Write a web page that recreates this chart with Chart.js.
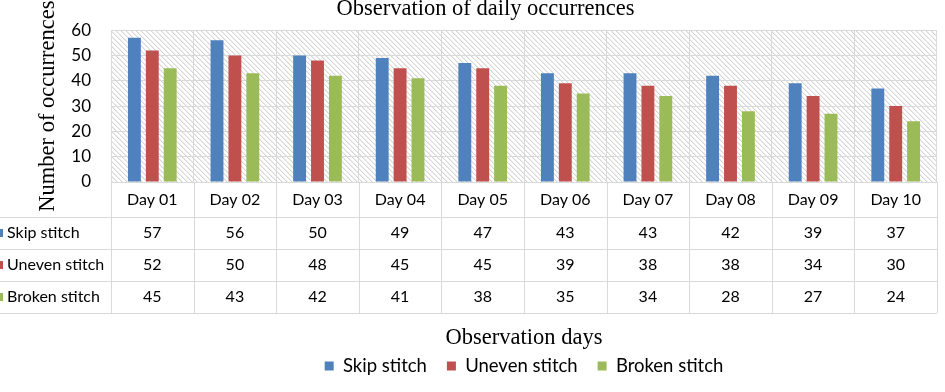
<!DOCTYPE html>
<html>
<head>
<meta charset="utf-8">
<script src="https://cdn.jsdelivr.net/npm/chart.js@4/dist/chart.umd.min.js"></script>
<style>
html, body { margin: 0; padding: 0; background: #ffffff; }
#wrap { width: 945px; height: 392px; }
</style>
</head>
<body>
<div id="wrap"><canvas id="c" width="945" height="392"></canvas></div>
<script>
// ---- data ----
const days = ['Day 01', 'Day 02', 'Day 03', 'Day 04', 'Day 05', 'Day 06', 'Day 07', 'Day 08', 'Day 09', 'Day 10'];
const skipStitch = [57, 56, 50, 49, 47, 43, 43, 42, 39, 37];
const unevenStitch = [52, 50, 48, 45, 45, 39, 38, 38, 34, 30];
const brokenStitch = [45, 43, 42, 41, 38, 35, 34, 28, 27, 24];
const seriesNames = ['Skip stitch', 'Uneven stitch', 'Broken stitch'];
const yTickValues = [0, 10, 20, 30, 40, 50, 60];
const chartTitle = 'Observation of daily occurrences';
const xTitle = 'Observation days';
const yTitle = 'Number of occurrences';

// ---- styles ----
const seriesColors = ['#4F81BD', '#C0504D', '#9BBB59'];
const gridColor = '#d9d9d9';
const sansFont = 'Lato';
const serifFont = 'Liberation Serif';

Chart.defaults.color = '#000';
Chart.defaults.font.family = sansFont;

function makeHatch(ctx) {
  const t = document.createElement('canvas');
  t.width = 5; t.height = 5;
  const g = t.getContext('2d');
  g.fillStyle = '#ffffff';
  g.fillRect(0, 0, 5, 5);
  for (let i = 0; i < 5; i++) {
    g.fillStyle = '#d6d6d6';
    g.fillRect(i, i, 1, 1);
    g.fillStyle = '#eeeeee';
    g.fillRect((i + 1) % 5, i, 1, 1);
  }
  return ctx.createPattern(t, 'repeat');
}

const tablePlugin = {
  id: 'dataTable',
  beforeDraw(chart) {
    const { ctx, chartArea: a } = chart;
    ctx.save();
    ctx.fillStyle = makeHatch(ctx);
    ctx.fillRect(a.left, a.top, a.right - a.left, a.bottom - a.top);
    ctx.restore();
  },
  afterDraw(chart) {
    const { ctx, chartArea: a } = chart;
    const xs = chart.scales.x;
    const headerH = 35, rowH = 32;
    const top0 = a.bottom + headerH;
    const n = days.length;
    const nRows = chart.data.datasets.length;
    const bottom = top0 + nRows * rowH;
    const edges = [];
    for (let i = 0; i <= n; i++) {
      if (i === 0) edges.push(a.left);
      else if (i === n) edges.push(a.right);
      else edges.push((xs.getPixelForValue(i - 1) + xs.getPixelForValue(i)) / 2);
    }
    ctx.save();
    ctx.strokeStyle = gridColor;
    ctx.lineWidth = 1;
    ctx.beginPath();
    for (let r = 0; r <= nRows; r++) {
      const y = Math.round(top0 + r * rowH) + 0.5;
      ctx.moveTo(0, y);
      ctx.lineTo(a.right, y);
    }
    edges.forEach(x => {
      const px = Math.round(x) + 0.5;
      ctx.moveTo(px, a.bottom);
      ctx.lineTo(px, bottom);
    });
    ctx.stroke();

    ctx.font = '16px ' + sansFont;
    ctx.textBaseline = 'middle';
    chart.data.datasets.forEach((ds, r) => {
      const cy = top0 + r * rowH + rowH / 2;
      ctx.fillStyle = ds.backgroundColor;
      ctx.fillRect(-5, Math.round(cy) - 4, 8, 8);
      ctx.fillStyle = '#000';
      ctx.textAlign = 'left';
      ctx.fillText(ds.label, 7, cy);
      ctx.textAlign = 'center';
      ds.data.forEach((v, i) => ctx.fillText(String(v), xs.getPixelForValue(i), cy));
    });
    ctx.restore();
  }
};

new Chart(document.getElementById('c'), {
  type: 'bar',
  data: {
    labels: days,
    datasets: [
      { label: seriesNames[0], data: skipStitch, backgroundColor: seriesColors[0] },
      { label: seriesNames[1], data: unevenStitch, backgroundColor: seriesColors[1] },
      { label: seriesNames[2], data: brokenStitch, backgroundColor: seriesColors[2] }
    ]
  },
  options: {
    responsive: false,
    animation: false,
    events: [],
    layout: { padding: { left: 34, right: 8, top: 0, bottom: 6.75 } },
    datasets: { bar: { categoryPercentage: 0.65, barPercentage: 0.72 } },
    plugins: {
      title: {
        display: true,
        text: chartTitle,
        color: '#000',
        font: { family: serifFont, size: 22.5, weight: 'normal' },
        padding: { top: -5.5, bottom: 8 }
      },
      legend: {
        display: true,
        position: 'bottom',
        fullSize: false,
        labels: {
          color: '#000',
          font: { family: sansFont, size: 18.5 },
          boxWidth: 9,
          boxHeight: 9,
          padding: 20
        }
      },
      tooltip: { enabled: false }
    },
    scales: {
      x: {
        offset: true,
        grid: { display: true, offset: true, color: gridColor, drawTicks: false },
        border: { display: true, color: gridColor },
        ticks: { font: { family: sansFont, size: 16 }, color: '#000', padding: 8, autoSkip: false, maxRotation: 0 },
        title: {
          display: true,
          text: xTitle,
          color: '#000',
          font: { family: serifFont, size: 22.5 },
          padding: { top: 0, bottom: -14.75 }
        },
        afterFit(scale) { scale.height = 154.75; }
      },
      y: {
        min: 0,
        max: 60,
        grid: { color: gridColor, drawTicks: false },
        border: { display: true, color: gridColor },
        ticks: { stepSize: 10, font: { family: sansFont, size: 17 }, color: '#000', padding: 20 },
        afterBuildTicks(scale) { scale.ticks = yTickValues.map(v => ({ value: v })); },
        title: {
          display: true,
          text: yTitle,
          color: '#000',
          font: { family: serifFont, size: 22.5 },
          padding: { top: 1, bottom: 0 }
        },
        afterFit(scale) { scale.width = 77; }
      }
    }
  },
  plugins: [tablePlugin]
});
</script>
</body>
</html>
